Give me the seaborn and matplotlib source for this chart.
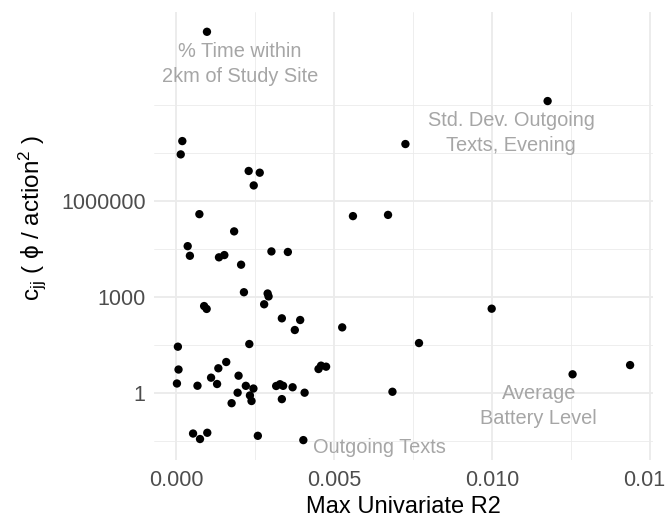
import matplotlib
matplotlib.use("Agg")
import matplotlib.pyplot as plt
import numpy as np
import pandas as pd
import seaborn as sns

# Max univariate R2 of each feature and its estimated cost coefficient c_jj
max_r2 = [
    0.00097, 0.00019, 0.00014, 0.00229, 0.00264, 0.00245, 0.00073, 0.00183,
    0.00725, 0.00559, 0.00670, 0.01175, 0.00036, 0.00043, 0.00135, 0.00152,
    0.00205, 0.00301, 0.00353, 0.00214, 0.00289, 0.00292, 0.00278, 0.00088,
    0.00096, 0.00334, 0.00392, 0.00375, 0.00525, 0.00768, 0.00998, 0.00684,
    0.01254, 0.01436, 0.00005, 0.00231, 0.00007, 0.00002, 0.00067, 0.00110,
    0.00133, 0.00158, 0.00129, 0.00197, 0.00220, 0.00244, 0.00194, 0.00233,
    0.00238, 0.00175, 0.00316, 0.00328, 0.00338, 0.00334, 0.00368, 0.00053,
    0.00075, 0.00098, 0.00258, 0.00402, 0.00406, 0.00450, 0.00458, 0.00474,
]
c_jj = [
    1.9e11, 7.3e7, 2.8e7, 8.5e6, 7.5e6, 3.0e6, 3.8e5, 1.1e5,
    5.9e7, 3.3e5, 3.6e5, 1.3e9, 3.8e4, 1.9e4, 1.7e4, 2.0e4,
    1.0e4, 2.6e4, 2.5e4, 1380, 1260, 1020, 580, 510,
    415, 211, 187, 91, 110, 35.6, 422, 1.07,
    3.76, 7.3, 27.4, 33.2, 5.3, 1.94, 1.65, 2.95,
    5.8, 9.1, 1.87, 3.4, 1.64, 1.35, 1.0, 0.82,
    0.55, 0.47, 1.62, 1.84, 1.64, 0.63, 1.48, 0.053,
    0.0357, 0.056, 0.045, 0.033, 1.0, 5.5, 7.0, 6.5,
]

feature_labels = [
    "% Time within\n2km of Study Site",
    "Std. Dev. Outgoing\nTexts, Evening",
    "Average\nBattery Level",
    "Outgoing Texts",
]

x_ticks = [0.0, 0.005, 0.010, 0.015]
x_tick_labels = ["0.000", "0.005", "0.010", "0.015"]
y_ticks = [1, 1e3, 1e6]
y_tick_labels = ["1", "1000", "1000000"]

df = pd.DataFrame({"max_r2": max_r2, "c_jj": c_jj})

sns.set_style("white")
plt.rcParams["font.family"] = ["Liberation Sans", "DejaVu Sans"]
plt.rcParams["mathtext.fontset"] = "custom"
plt.rcParams["mathtext.rm"] = "Liberation Sans"
plt.rcParams["mathtext.it"] = "Liberation Sans:italic"

fig = plt.figure(figsize=(6.65, 5.18), dpi=100)
ax = fig.add_axes([154 / 665, 1 - 460 / 518, (653 - 154) / 665, (460 - 12) / 518])

ax.set_yscale("log")
ax.set_xlim(-0.000706, 0.015085)
ax.set_ylim(10 ** -2.103, 10 ** 11.897)

# grid: major and thinner minor lines, no axis frame
for v in [0.0025, 0.0075, 0.0125]:
    ax.axvline(v, color="#ebebeb", lw=0.6, zorder=0)
for v in x_ticks:
    ax.axvline(v, color="#ebebeb", lw=1.3, zorder=0)
for v in [10 ** -1.5, 10 ** 1.5, 10 ** 4.5, 10 ** 7.5, 1e9]:
    ax.axhline(v, color="#ebebeb", lw=0.6, zorder=0)
for v in y_ticks:
    ax.axhline(v, color="#ebebeb", lw=1.3, zorder=0)

sns.scatterplot(data=df, x="max_r2", y="c_jj", ax=ax, color="black",
                s=36, edgecolor="none", linewidth=0, zorder=3)

label_pos = [(0.00202, 10 ** 10.27), (0.01059, 10 ** 8.13),
             (0.01147, 10 ** -0.416), (0.00643, 10 ** -1.70)]
for (tx, ty), txt in zip(label_pos, feature_labels):
    ax.text(tx, ty, txt, ha="center", va="center", fontsize=14.4,
            color="#a6a6a6", linespacing=1.4, zorder=2)

ax.set_xticks(x_ticks)
ax.set_xticklabels(x_tick_labels)
ax.set_yticks(y_ticks)
ax.set_yticklabels(y_tick_labels)
ax.yaxis.set_minor_locator(matplotlib.ticker.NullLocator())
ax.tick_params(axis="both", length=0, labelsize=15.5, labelcolor="#4d4d4d")
ax.tick_params(axis="x", pad=7)
ax.tick_params(axis="y", pad=6)
for s in ax.spines.values():
    s.set_visible(False)

ax.set_xlabel("Max Univariate R2", fontsize=17, color="black", labelpad=4)
ax.set_ylabel(r"c$_{\mathrm{jj}}$ ( ϕ / action$^{2}$ )", fontsize=17.5,
              color="black")
ax.yaxis.set_label_coords(-0.212, 0.54)

fig.savefig("out.png", dpi=100)
